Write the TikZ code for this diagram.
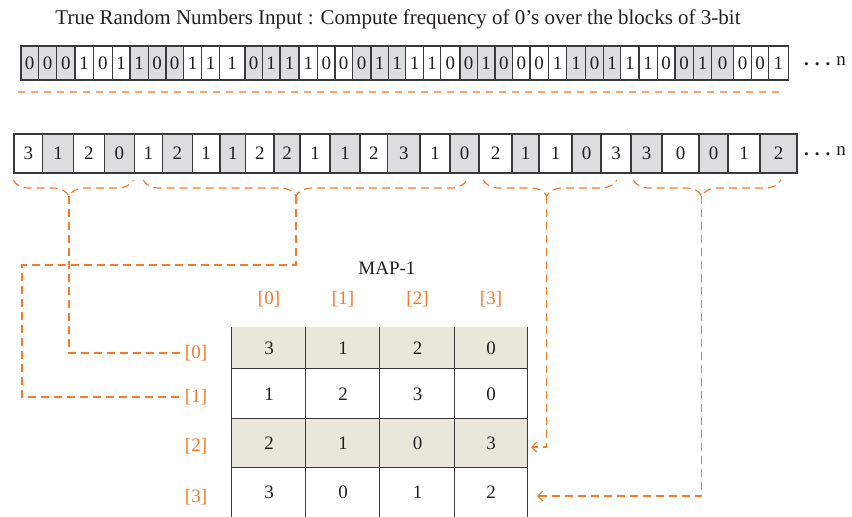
\documentclass[tikz,border=0pt]{standalone}
\usepackage{fontspec}
\setmainfont{Liberation Serif}
\usetikzlibrary{decorations.pathreplacing,arrows.meta}
\definecolor{cG}{HTML}{DCDDDF}
\definecolor{cW}{HTML}{FFFFFF}
\definecolor{beige}{HTML}{EAE7DA}
\definecolor{org}{HTML}{F47B2A}
\definecolor{orgl}{HTML}{F8A56E}
\definecolor{grid}{HTML}{3A3A3A}
\definecolor{ink}{HTML}{231F20}
\begin{document}
\begin{tikzpicture}[x=1pt,y=-1pt,
  bit/.style={draw=grid, line width=1.1pt, inner sep=0pt, minimum height=34pt, text=ink, font=\fontsize{19}{19}\selectfont},
  cnt/.style={bit, minimum height=39pt},
  mcell/.style={inner sep=0pt, text=ink, font=\fontsize{19}{19}\selectfont},
  lbl/.style={text=org, inner sep=3pt, font=\fontsize{19}{19}\selectfont},
  conn/.style={draw=org, line width=1.2pt, dash pattern=on 8pt off 5pt},
  gridl/.style={draw=grid, line width=1.1pt},
  bracestyle/.style={conn, decorate, decoration={brace, mirror, amplitude=16pt, aspect=#1}},
  tipstyle/.style={-{Straight Barb[length=5pt,width=10pt]}},
  dotsn/.style={anchor=base west, inner sep=0pt, text=ink, font=\fontsize{19}{19}\selectfont}
]
\useasboundingbox (0,0) rectangle (852,517);

\node[text=ink, inner sep=0pt, font=\fontsize{21}{22}\selectfont] (title) at (398,19) {True Random Numbers Input : Compute frequency of 0’s over the blocks of 3-bit};

% row 1 : bits
\foreach \xa/\xb/\val/\fl [count=\i] in {
 21/38.3/0/cG, 38.3/56.7/0/cG, 56.7/75/0/cG,
 75/93.3/1/cW, 93.3/112.3/0/cW, 112.3/130/1/cW,
 130/148.3/1/cG, 148.3/166/0/cG, 166/183.3/0/cG,
 183.3/201.7/1/cW, 201.7/219.3/1/cW, 219.3/245/1/cW,
 245/262.3/0/cG, 262.3/280/1/cG, 280/299/1/cG,
 299/317.7/1/cW, 317.7/335/0/cW, 335/352.3/0/cW,
 352.3/371/0/cG, 371/388.3/1/cG, 388.3/405.7/1/cG,
 405.7/423.3/1/cW, 423.3/440.7/1/cW, 440.7/460/0/cW,
 460/477.3/0/cG, 477.3/495/1/cG, 495/512.7/0/cG,
 512.7/530/0/cW, 530/548.3/0/cW, 548.3/566.7/1/cW,
 566.7/585.7/1/cG, 585.7/603.3/0/cG, 603.3/620.7/1/cG,
 620.7/639/1/cW, 639/657.3/1/cW, 657.3/675/0/cW,
 675/693.3/0/cG, 693.3/711.7/1/cG, 711.7/733.3/0/cG,
 733.3/751.7/0/cW, 751.7/768.3/0/cW, 768.3/788.3/1/cW}
 \node[bit, fill=\fl, minimum width={(\xb-\xa)*1pt}] (p\i) at ({(\xa+\xb)/2},63) {\raisebox{-3pt}{\val}};

\node[dotsn] (n1) at (804,65) {{\bfseries .\hspace{6pt}.\hspace{6pt}.}\hspace{6pt}n};

\draw[draw=orgl, line width=1.5pt, dash pattern=on 7pt off 6pt] (18,92) -- (783,92);

% row 2 : counts
\foreach \xa/\xb/\val/\fl [count=\i] in {
 14/42.7/3/cW, 42.7/73.3/1/cG, 73.3/104.3/2/cW, 104.3/134.3/0/cG,
 134.3/162.3/1/cW, 162.3/192.3/2/cG, 192.3/220/1/cW, 220/245.7/1/cG,
 245.7/274/2/cW, 274/300/2/cG, 300/330/1/cW, 330/360/1/cG,
 360/387.7/2/cW, 387.7/420/3/cG, 420/450/1/cW, 450/479/0/cG,
 479/512/2/cW, 512/539/1/cG, 539/572/1/cW, 572/601/0/cG,
 601/631/3/cW, 631/662/3/cG, 662/699/0/cW, 699/728/0/cG,
 728/760/1/cW, 760/797/2/cG}
 \node[cnt, fill=\fl, minimum width={(\xb-\xa)*1pt}] (q\i) at ({(\xa+\xb)/2},153.5) {\raisebox{-3pt}{\val}};

\node[dotsn] (n2) at (804,155) {{\bfseries .\hspace{6pt}.\hspace{6pt}.}\hspace{6pt}n};

% braces
\draw[bracestyle=0.464] (13.3,180) -- (133.3,180);
\draw[bracestyle=0.472] (143.3,180) -- (466.7,180);
\draw[bracestyle=0.475] (483.3,180) -- (616.7,180);
\draw[bracestyle=0.463] (633.3,180) -- (781,180);
\coordinate (t1) at (69,196);
\coordinate (t2) at (296,196);
\coordinate (t3) at (546.7,196);
\coordinate (t4) at (701.7,196);

% map
\node[mcell] (map) at (387,268) {MAP-1};
\foreach \r/\ya/\yb/\fl/\va/\vb/\vc/\vd in {0/327/369/beige/3/1/2/0, 1/369/419/white/1/2/3/0, 2/419/468/beige/2/1/0/3, 3/468/517/white/3/0/1/2}{
  \foreach \c/\xa/\xb/\val in {0/232/306/\va, 1/306/380/\vb, 2/380/455/\vc, 3/455/527/\vd}{
    \node[mcell, fill=\fl, minimum width={(\xb-\xa)*1pt}, minimum height={(\yb-\ya)*1pt}] (m\r\c) at ({(\xa+\xb)/2},{(\ya+\yb)/2}) {\raisebox{-3pt}{\val}};
  }
}
\foreach \c in {0,1,2,3} \draw[gridl] (m0\c.north west) -- (m3\c.south west);
\draw[gridl] (m03.north east) -- (m33.south east);
\foreach \r in {1,2,3} \draw[gridl] (m\r0.north west) -- (m\r3.north east);

\foreach \c/\x in {0/269,1/343,2/417.5,3/491} \node[lbl] (h\c) at (\x,299) {[\c]};
\foreach \r/\y in {0/353,1/397,2/446,3/497} \node[lbl] (r\r) at (196,\y) {[\r]};

% connectors
\draw[conn] (t1) |- (r0.west);
\coordinate (k2) at (22,265);
\draw[conn] (t2) |- (k2) |- (r1.west);
\coordinate (a3) at (531,447);
\draw[conn, tipstyle] (t3) |- (a3);
\coordinate (a4) at (537,496);
\draw[conn, tipstyle] (t4) |- (a4);
\end{tikzpicture}
\end{document}
